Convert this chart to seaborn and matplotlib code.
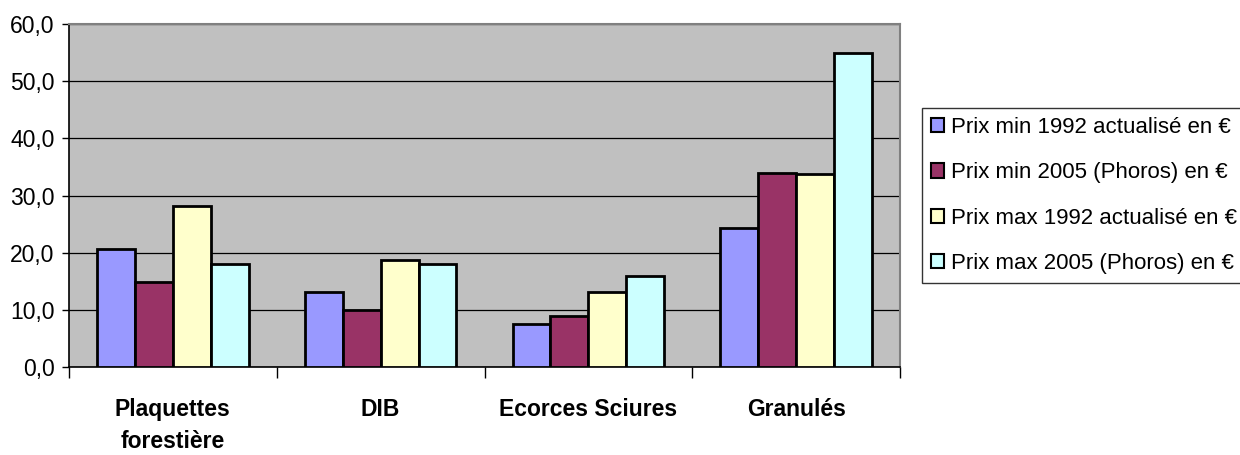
import matplotlib
matplotlib.use("Agg")
import matplotlib.pyplot as plt
import seaborn as sns
import pandas as pd
from matplotlib.ticker import FixedLocator, FuncFormatter

# Wood fuel prices (€), by product
categories = ["Plaquettes\nforestière", "DIB", "Ecorces Sciures", "Granulés"]
series = [
    "Prix min 1992 actualisé en €",
    "Prix min 2005 (Phoros) en €",
    "Prix max 1992 actualisé en €",
    "Prix max 2005 (Phoros) en €",
]
prix_min_1992 = [20.7, 13.1, 7.5, 24.4]
prix_min_2005 = [14.9, 10.0, 9.0, 33.9]
prix_max_1992 = [28.2, 18.7, 13.1, 33.7]
prix_max_2005 = [18.0, 18.0, 16.0, 55.0]
colors = ["#9999FF", "#993366", "#FFFFCC", "#CCFFFF"]

values = [prix_min_1992, prix_min_2005, prix_max_1992, prix_max_2005]
df = pd.DataFrame(
    [(c, s, v) for s, vals in zip(series, values) for c, v in zip(categories, vals)],
    columns=["Produit", "Série", "Prix"],
)

sns.set_theme(style="white")
plt.rcParams["font.family"] = ["Liberation Sans", "DejaVu Sans"]
plt.rcParams["text.color"] = "black"
plt.rcParams["xtick.color"] = "black"
plt.rcParams["ytick.color"] = "black"

fig = plt.figure(figsize=(12.4, 4.55), dpi=100)
ax = fig.add_axes([69 / 1240, 88 / 455, 831 / 1240, 343 / 455])
ax.set_facecolor("#C0C0C0")

sns.barplot(
    data=df, x="Produit", y="Prix", hue="Série", hue_order=series,
    order=categories, palette=colors, width=0.73, gap=0,
    edgecolor="black", linewidth=2.0, saturation=1, ax=ax, zorder=3,
)

ax.set_ylim(0, 60)
ax.set_xlim(-0.5, 3.5)
ax.yaxis.set_major_locator(FixedLocator(range(0, 61, 10)))
ax.yaxis.set_major_formatter(FuncFormatter(lambda v, p: f"{v:.1f}".replace(".", ",")))
ax.grid(axis="y", color="black", linewidth=0.9, zorder=0)
ax.set_axisbelow(True)

ax.set_xlabel("")
ax.set_ylabel("")
ax.tick_params(axis="y", labelsize=16.5, length=5, width=1, direction="out",
               color="black", labelcolor="black", pad=5.5, left=True)
ax.tick_params(axis="x", which="major", length=0, labelsize=16.5,
               labelcolor="black", pad=22)
for lbl in ax.get_xticklabels():
    lbl.set_fontweight("bold")
    lbl.set_linespacing(1.55)
ax.set_xticks([-0.5, 0.5, 1.5, 2.5, 3.5], minor=True)
ax.tick_params(axis="x", which="minor", length=8, width=1, color="black",
               direction="out", bottom=True)

for side in ["top", "right"]:
    ax.spines[side].set_color("#808080")
    ax.spines[side].set_linewidth(1.5)
for side in ["left", "bottom"]:
    ax.spines[side].set_color("black")
    ax.spines[side].set_linewidth(1.2)

leg = ax.legend(
    loc="upper left", bbox_to_anchor=(1.0265, 0.755), borderaxespad=0,
    fontsize=16, frameon=True, fancybox=False, shadow=False,
    handlelength=0.6, handleheight=0.6, handletextpad=0.3,
    labelspacing=1.1, borderpad=0.4, title=None,
)
leg.get_frame().set_edgecolor("black")
leg.get_frame().set_linewidth(1.0)
leg.get_frame().set_facecolor("white")
for t in leg.get_texts():
    t.set_color("black")
for h in leg.legend_handles:
    h.set_edgecolor("black")
    h.set_linewidth(1.5)

fig.savefig("out.png", dpi=100, facecolor="white")
